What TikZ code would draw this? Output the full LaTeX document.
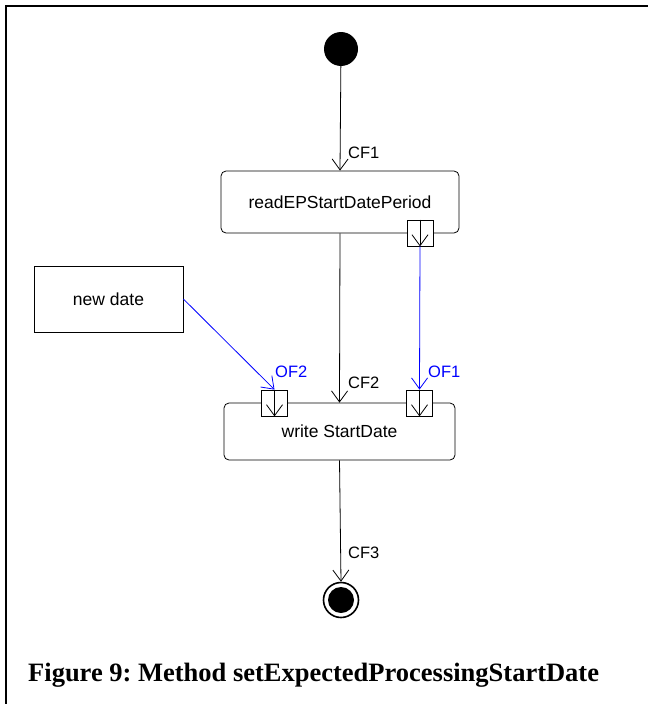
\documentclass[tikz,border=0pt]{standalone}
\usepackage{fontspec}
\setmainfont{Liberation Serif}
\setsansfont{Liberation Sans}
\usetikzlibrary{arrows.meta}
\frenchspacing
\begin{document}
\begin{tikzpicture}[x=1pt,y=-1pt,
  barb/.style={-{Straight Barb[length=11pt,width=16pt,line width=0.8pt]}},
  flow/.style={draw=black, line width=0.8pt, barb},
  objflow/.style={flow, draw=blue},
  action/.style={draw, line width=0.8pt, rounded corners=5pt, inner sep=0pt,
    font=\sffamily\fontsize{17.5}{20}\selectfont},
  objbox/.style={draw, line width=0.8pt, inner sep=0pt,
    font=\sffamily\fontsize{17.5}{20}\selectfont},
  pinbox/.style={draw, fill=white, line width=0.8pt, inner sep=0pt,
    minimum width=26pt, minimum height=26pt},
  lbl/.style={inner sep=0pt, anchor=west, font=\sffamily\fontsize{16.5}{18}\selectfont},
  objlbl/.style={lbl, text=blue}]
\useasboundingbox (0,0) rectangle (648,704);

% page frame (left and top edges)
\draw[line width=2pt] (6,704) -- (6,6) -- (648,6);

% start and end points
\node[circle, fill=black, minimum size=34pt, inner sep=0pt] (start) at (341,49) {};
\node[circle, draw, line width=1.6pt, minimum size=35pt, inner sep=0pt,
  path picture={\fill (path picture bounding box.center) circle (13pt);}]
  (final) at (341,600) {};

% actions and object
\node[action, minimum width=238pt, minimum height=62pt] (read) at (340,202) {readEPStartDatePeriod};
\node[action, minimum width=231pt, minimum height=57pt] (write) at (339.5,431.5) {write StartDate};
\node[objbox, minimum width=149pt, minimum height=66pt] (newdate) at (108.5,299) {new date};

% pins
\node[pinbox] (pout) at (420,233) {};
\node[pinbox] (pin2) at (274.5,403) {};
\node[pinbox] (pin1) at (419.5,403) {};
\foreach \p in {pout,pin2,pin1}
  \draw[line width=0.8pt, barb] (\p.north) -- (\p.south);

% control flows
\draw[flow] (start) -- (read.north);
\draw[flow] (read.south) -- (write.north);
\draw[flow] (write.south) -- (final.north);

% object flows
\draw[objflow] (pout.south) -- (pin1.north);
\draw[objflow] (newdate.east) -- (pin2.north);

% flow labels
\node[lbl] (cf1) at (348,153) {CF1};
\node[lbl] (cf2) at (348,383) {CF2};
\node[lbl] (cf3) at (348,553) {CF3};
\node[objlbl] (of2) at (275,372) {OF2};
\node[objlbl] (of1) at (428,372) {OF1};

% caption
\node[anchor=base west, inner sep=0pt, font=\rmfamily\bfseries\fontsize{26.5}{30}\selectfont]
  (caption) at (28,681) {Figure 9: Method setExpectedProcessingStartDate};
\end{tikzpicture}
\end{document}
